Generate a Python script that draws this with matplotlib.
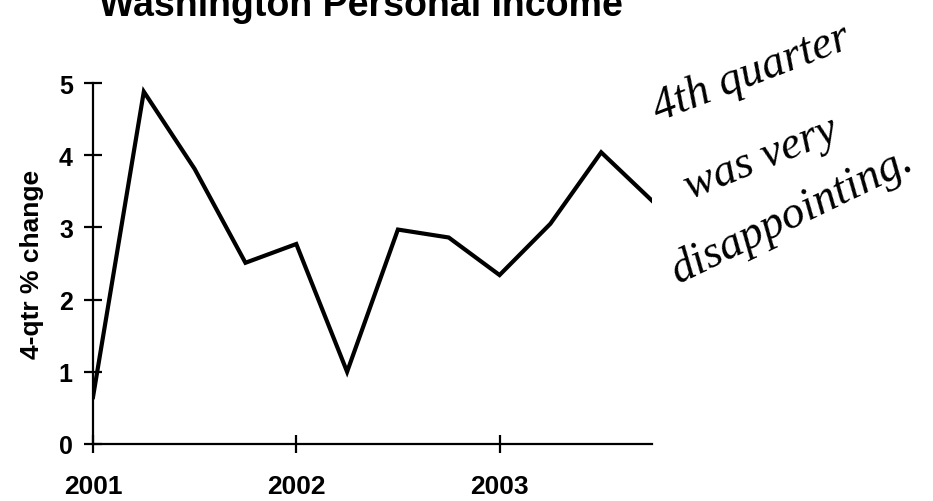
import matplotlib
matplotlib.use('Agg')
import matplotlib.pyplot as plt

# quarterly data, 2001Q1 .. 2003Q4
quarters = ['2001Q1', '2001Q2', '2001Q3', '2001Q4',
            '2002Q1', '2002Q2', '2002Q3', '2002Q4',
            '2003Q1', '2003Q2', '2003Q3', '2003Q4']
pct_change = [0.65, 4.88, 3.81, 2.51, 2.77, 1.0, 2.97, 2.86, 2.34, 3.05, 4.04, 3.37]
year_ticks = [0, 4, 8]
year_labels = ['2001', '2002', '2003']
y_ticks = [0, 1, 2, 3, 4, 5]
note_lines = ['4th quarter', 'was very', 'disappointing.']

plt.rcParams['font.family'] = ['Liberation Sans', 'DejaVu Sans']

W, H = 933, 502
fig = plt.figure(figsize=(W / 100, H / 100), dpi=100)
ax = fig.add_axes([93 / W, 1 - 445 / H, (652 - 93) / W, (445 - 84) / H])

x = list(range(len(quarters)))
ax.plot(x, pct_change, color='black', lw=3.0, solid_joinstyle='miter')

ax.set_xlim(0, 11)
ax.set_ylim(0, 5)
for s in ['top', 'right']:
    ax.spines[s].set_visible(False)
for s in ['left', 'bottom']:
    ax.spines[s].set_linewidth(1.6)

ax.set_xticks(year_ticks)
ax.set_xticklabels(year_labels, fontsize=19, fontweight='bold')
ax.set_yticks(y_ticks)
ax.set_yticklabels([str(v) for v in y_ticks], fontsize=18, fontweight='bold')
ax.tick_params(axis='both', direction='inout', length=13, width=1.6)
ax.tick_params(axis='x', pad=15)
ax.tick_params(axis='y', pad=8)

ax.set_ylabel('4-qtr % change', fontsize=19, fontweight='bold', va='center')
ax.yaxis.set_label_coords(-0.109, 0.5)

fig.text(361 / W, 1 - 16 / H, 'Washington Personal Income', ha='center',
         va='baseline', fontsize=27, fontweight='bold')

# handwritten note
note_pos = [(658, 122, 21), (690, 200, 22), (678, 284, 26)]
for txt, (px, py, rot) in zip(note_lines, note_pos):
    fig.text(px / W, 1 - py / H, txt, ha='left', va='baseline', rotation=rot,
             rotation_mode='anchor', fontsize=33, style='italic',
             family=['Liberation Serif', 'DejaVu Serif'])

plt.savefig('out.png', dpi=100)
